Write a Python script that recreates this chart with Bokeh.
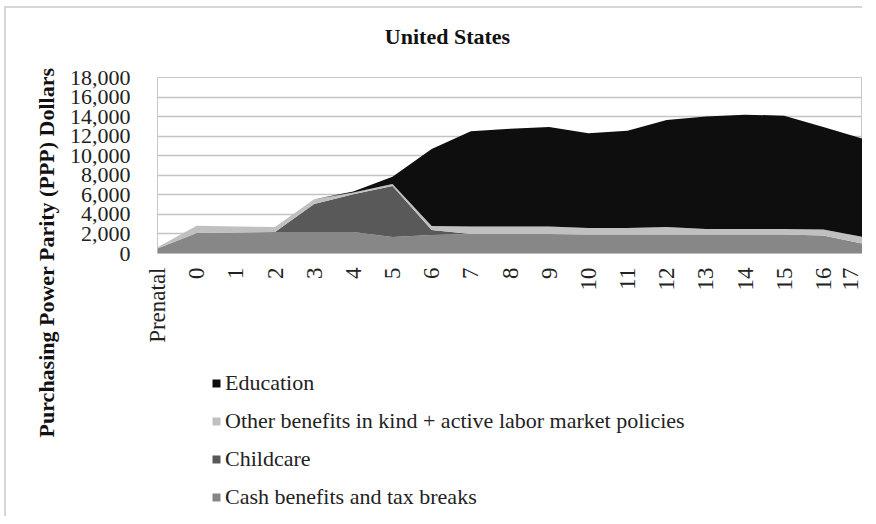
import math
from bokeh.plotting import figure
from bokeh.layouts import row, column
from bokeh.models import (ColumnDataSource, Range1d, FixedTicker, NumeralTickFormatter,
                          Legend, LegendItem)
from bokeh.core.properties import value
from bokeh.embed import file_html
from bokeh.resources import INLINE

categories = ["Prenatal", "0", "1", "2", "3", "4", "5", "6", "7", "8", "9",
              "10", "11", "12", "13", "14", "15", "16", "17"]
cash = [500, 2100, 2150, 2200, 2200, 2200, 1700, 1900, 2000, 2000, 2000,
        1950, 1950, 1950, 1950, 1950, 1950, 1850, 1000]
childcare = [0, 0, 0, 0, 2850, 3850, 5200, 500, 0, 0, 0,
             0, 0, 0, 0, 0, 0, 0, 0]
other = [150, 750, 600, 500, 500, 200, 200, 400, 750, 750, 750,
         650, 650, 750, 550, 550, 550, 600, 700]
education = [0, 0, 0, 0, 0, 100, 750, 7900, 9750, 10000, 10200,
             9700, 9950, 10950, 11500, 11700, 11600, 10500, 10050]
y_ticks = [0, 2000, 4000, 6000, 8000, 10000, 12000, 14000, 16000, 18000]

series_names = ["Cash benefits and tax breaks", "Childcare",
                "Other benefits in kind + active labor market policies", "Education"]
series_colors = ["#878787", "#595959", "#c0c0c0", "#0e0e0e"]
title_text = "United States"
y_label_text = "Purchasing Power Parity (PPP) Dollars"

FONT = "Liberation Serif"
WT = 856         # total width
HT = 50          # title strip height
HB = 458         # height below the title strip
LW = 60          # width of y-label strip
H1 = 292         # height of chart part
W = WT - LW      # width of chart part

# ---- title strip ----
pt = figure(width=WT, height=HT, output_backend="svg", toolbar_location=None,
            x_range=Range1d(0, WT), y_range=Range1d(0, HT), min_border=0,
            x_axis_location=None, y_axis_location=None)
pt.grid.grid_line_color = None
pt.outline_line_color = None
pt.text(x=[441], y=[22], text=[title_text], text_align="center",
        text_baseline="middle", text_font=value(FONT), text_font_style="bold",
        text_font_size="22px", text_color="#111111")

# ---- y-axis label strip ----
pl = figure(width=LW, height=HB, output_backend="svg", toolbar_location=None,
            x_range=Range1d(0, LW), y_range=Range1d(0, HB), min_border=0,
            x_axis_location=None, y_axis_location=None)
pl.grid.grid_line_color = None
pl.outline_line_color = None
pl.text(x=[40], y=[264], text=[y_label_text], angle=math.pi / 2,
        text_align="center", text_baseline="middle", text_font=value(FONT),
        text_font_style="bold", text_font_size="22px", text_color="#111111")

# ---- main chart ----
xs = list(range(len(categories)))
source = ColumnDataSource(dict(x=xs, cash=cash, childcare=childcare,
                               other=other, education=education))

p = figure(width=W, height=H1, output_backend="svg", toolbar_location=None,
           x_range=Range1d(0, len(categories) - 1), y_range=Range1d(0, 18000),
           min_border_left=149 - 6 - LW, min_border_right=0, min_border_top=77 - 8 - HT,
           min_border_bottom=H1 + HT + 8 - 253)

renderers = p.varea_stack(stackers=["cash", "childcare", "other", "education"], x="x",
                          source=source, color=series_colors)

p.xaxis.ticker = FixedTicker(ticks=xs)
p.xaxis.major_label_overrides = {i: c for i, c in enumerate(categories)}
p.xaxis.major_label_orientation = math.pi / 2
p.xaxis.major_label_text_font = FONT
p.xaxis.major_label_text_font_size = "23px"
p.xaxis.major_label_text_color = "#222222"
p.xaxis.major_tick_line_color = None
p.xaxis.minor_tick_line_color = None
p.xaxis.axis_line_color = "#bdbdbd"
p.xaxis.major_label_standoff = 8

p.yaxis.ticker = FixedTicker(ticks=y_ticks)
p.yaxis.formatter = NumeralTickFormatter(format="0,0")
p.yaxis.major_label_text_font = FONT
p.yaxis.major_label_text_font_size = "22px"
p.yaxis.major_label_text_color = "#222222"
p.yaxis.major_tick_line_color = None
p.yaxis.minor_tick_line_color = None
p.yaxis.axis_line_color = None
p.yaxis.major_label_standoff = 21

p.xgrid.grid_line_color = None
p.ygrid.grid_line_color = "#c4c4c4"
p.ygrid.grid_line_width = 1.5
p.outline_line_color = "#c8c8c8"

# ---- legend strip ----
H2 = HB - H1
pg = figure(width=W, height=H2, output_backend="svg", toolbar_location=None,
            x_range=Range1d(0, 1), y_range=Range1d(0, 1), min_border=0,
            x_axis_location=None, y_axis_location=None)
pg.grid.grid_line_color = None
pg.outline_line_color = None
legend_renderers = [pg.varea(x=[-3, -2], y1=[-3, -3], y2=[-2, -2], fill_color=c)
                    for c in series_colors]
items = [LegendItem(label=series_names[i], renderers=[legend_renderers[i]])
         for i in [3, 2, 1, 0]]
legend = Legend(items=items, location=(54, 6), padding=0, margin=0,
                glyph_width=10, glyph_height=10, label_standoff=4, label_height=22,
                spacing=12, label_text_font=FONT, label_text_font_size="22px",
                label_text_color="#222222", border_line_color=None,
                background_fill_alpha=0)
pg.add_layout(legend, "center")

layout = column(pt, row(pl, column(p, pg, spacing=0), spacing=0), spacing=0)
layout.styles = {"border-top": "2px solid #d6d6d6", "border-left": "2px solid #d6d6d6",
                 "margin-top": "6px", "margin-left": "4px"}

open("out.html", "w").write(file_html(layout, INLINE))
